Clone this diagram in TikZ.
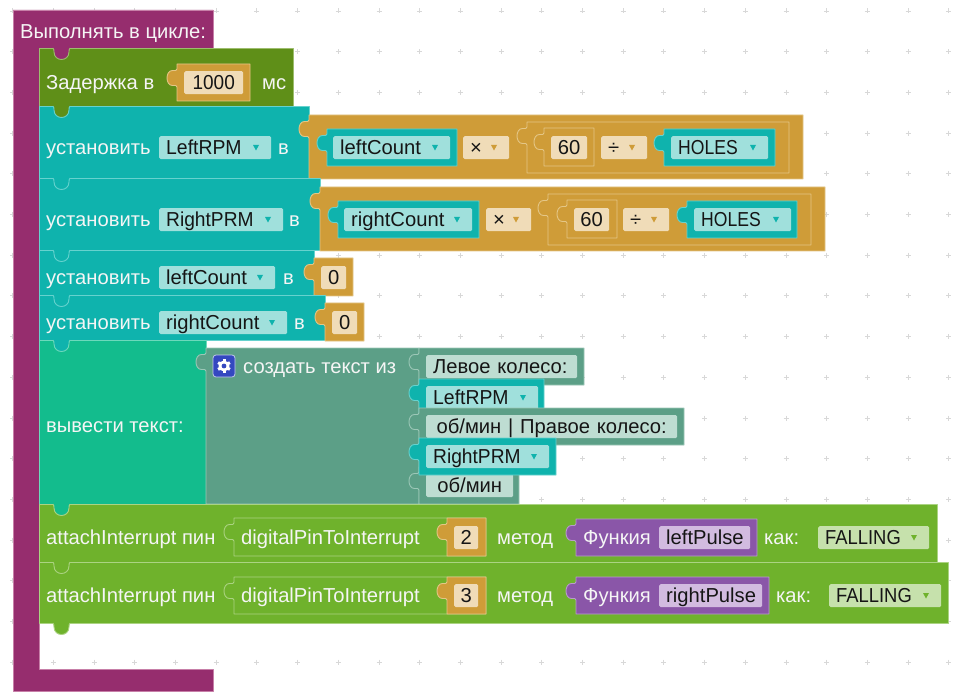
\documentclass[tikz,border=0pt]{standalone}
\usepackage{fontspec}
\setmainfont{Liberation Sans}
\definecolor{loopc}{HTML}{962D6E}\definecolor{loope}{HTML}{C77FA8}
\definecolor{delayc}{HTML}{5F8F18}\definecolor{delaye}{HTML}{9DBD6E}
\definecolor{setc}{HTML}{0FB3AD}\definecolor{sete}{HTML}{66D2CE}
\definecolor{setf}{HTML}{A0E0DC}
\definecolor{printc}{HTML}{13BC8D}\definecolor{printe}{HTML}{6CD9BB}
\definecolor{textc}{HTML}{5C9F87}\definecolor{texte}{HTML}{9CC7B7}
\definecolor{textf}{HTML}{BEDDD2}
\definecolor{mathc}{HTML}{CF9C38}\definecolor{mathe}{HTML}{E4C686}
\definecolor{mathf}{HTML}{F0DCB8}
\definecolor{attc}{HTML}{6FB22C}\definecolor{atte}{HTML}{ABD382}
\definecolor{attf}{HTML}{C6E1AC}
\definecolor{funcc}{HTML}{8A56A8}\definecolor{funce}{HTML}{BA9ACD}
\definecolor{funcf}{HTML}{D2BBE0}
\definecolor{gearc}{HTML}{3448C0}
\definecolor{gridc}{HTML}{D8D8D8}
\definecolor{inkc}{HTML}{151515}
\tikzset{
  x=1pt,y=-1pt,
  blockline/.style={line width=0.9pt,line join=round},
  every node/.style={font=\fontsize{20.2}{22}\selectfont},
  labeltext/.style={anchor=base west,inner sep=0pt,yshift=-0.7pt,text=white!96!black},
  fieldbox/.style={anchor=north west,inner xsep=0pt,inner ysep=2.5pt,text height=15.7pt,text depth=2.3pt,
    minimum height=23pt,rounded corners=1.5pt,text=inkc},
}
\newcommand\nrw[2]{\scalebox{#1}[1]{#2}}
% rectangular statement block with a notch that shows the colour above it
\newcommand\stblk[6]{%
  \filldraw[blockline,fill=#4,draw=#5] (39.5,#2) rectangle (#1,#3);
  \filldraw[blockline,fill=#6,draw=#5] (53,#2) .. controls (54,{#2+1}) and (54,{#2+3}) .. (54,{#2+4})
    .. controls (54,{#2+14}) and (69,{#2+14}) .. (69,{#2+4})
    .. controls (69,{#2+3}) and (69,{#2+1}) .. (70,#2);
}
% value block with a puzzle tab on its left side
\newcommand\vblk[6]{%
  \filldraw[blockline,fill=#5,draw=#6] (#3,#2) -- (#1,#2) -- (#1,{#2+5})
    .. controls (#1,{#2+7}) and ({#1-2},{#2+6.5}) .. ({#1-4.5},{#2+6.5})
    .. controls ({#1-8},{#2+6.5}) and ({#1-10},{#2+10}) .. ({#1-10},{#2+14})
    .. controls ({#1-10},{#2+18}) and ({#1-8},{#2+21.5}) .. ({#1-4.5},{#2+21.5})
    .. controls ({#1-2},{#2+21.5}) and (#1,{#2+21}) .. (#1,{#2+23})
    -- (#1,#4) -- (#3,#4) -- cycle;
}
% field: name, x0, y0, x1, fill, text (centred)
\newcommand\fldc[6]{%
  \node[fieldbox,fill=#5,minimum width={(#4-#2)*1pt},align=center,text width={(#4-#2)*1pt}] (#1) at (#2,#3) {#6};
}
% field with left-set text: name, x0, y0, x1, fill, text
\newcommand\fldl[6]{%
  \node[fieldbox,fill=#5,minimum width={(#4-#2)*1pt},align=left,text width={(#4-#2)*1pt}] (#1) at (#2,#3) {\hspace*{7pt}#6};
}
% field with a dropdown arrow: name, x0, y0, x1, fill, text, arrow colour
\newcommand\fldd[7]{%
  \fldl{#1}{#2}{#3}{#4}{#5}{#6}
  \fill[#7] ({#4-18},{#3+9}) -- ({#4-12},{#3+9}) -- ({#4-15},{#3+14.5}) -- cycle;
}
\newcommand\lbl[4]{\node[labeltext] (#1) at (#2,#3) {#4};}
\begin{document}
\begin{tikzpicture}
\useasboundingbox (0,0) rectangle (960,700);
\fill[white] (0,0) rectangle (960,700);
% workspace grid
\foreach \i in {0,...,23}{\foreach \j in {0,...,16}{
  \draw[gridc,line width=0.9pt] ({12.7+40.7*\i-2.5},{11+40.7*\j}) -- ({12.7+40.7*\i+2.5},{11+40.7*\j});
  \draw[gridc,line width=0.9pt] ({12.7+40.7*\i},{11+40.7*\j-2.5}) -- ({12.7+40.7*\i},{11+40.7*\j+2.5});
}}
% loop
\filldraw[blockline,fill=loopc,draw=loope] (13,10) -- (213,10) -- (213,48) -- (39.5,48) -- (39.5,669) -- (213,669) -- (213,691) -- (13,691) -- cycle;
\lbl{loopt}{20}{38}{Выполнять в цикле:}
% delay
\stblk{293}{48}{106}{delayc}{delaye}{loopc}
\lbl{delayt}{46}{89}{Задержка в}
\vblk{177}{64}{250}{101}{mathc}{mathe}
\fldc{delayv}{184}{71}{243}{mathf}{\nrw{.94}{1000}}
\lbl{delayu}{262}{89}{мс}
% set LeftRPM
\stblk{309}{106}{178}{setc}{sete}{delayc}
\lbl{s1t}{46}{154}{установить}
\fldd{s1f}{159}{136}{271}{setf}{\nrw{.96}{LeftRPM}}{setc}
\lbl{s1v}{278}{154}{в}
\vblk{309}{115}{803}{179}{mathc}{mathe}
\vblk{327}{129}{457}{166}{setc}{sete}
\fldd{m1a}{333}{136}{450}{setf}{leftCount}{setc}
\fldd{m1o}{463}{136}{509}{mathf}{×}{mathc}
\vblk{527}{122}{789}{173}{mathc}{mathe}
\vblk{544}{128}{594}{166}{mathc}{mathe}
\fldc{m1n}{551}{136}{587}{mathf}{60}
\fldd{m1d}{601}{136}{647}{mathf}{÷}{mathc}
\vblk{664}{129}{775}{166}{setc}{sete}
\fldd{m1h}{671}{136}{768}{setf}{\nrw{.87}{HOLES}}{setc}
% set RightPRM
\stblk{320}{178}{250}{setc}{sete}{setc}
\lbl{s2t}{46}{226}{установить}
\fldd{s2f}{159}{208}{283}{setf}{\nrw{.95}{RightPRM}}{setc}
\lbl{s2v}{289}{226}{в}
\vblk{320}{187}{825}{251}{mathc}{mathe}
\vblk{338}{201}{479}{238}{setc}{sete}
\fldd{m2a}{344}{208}{472}{setf}{rightCount}{setc}
\fldd{m2o}{486}{208}{531}{mathf}{×}{mathc}
\vblk{548}{194}{811}{245}{mathc}{mathe}
\vblk{567}{200}{617}{238}{mathc}{mathe}
\fldc{m2n}{574}{208}{609}{mathf}{60}
\fldd{m2d}{623}{208}{669}{mathf}{÷}{mathc}
\vblk{687}{201}{797}{238}{setc}{sete}
\fldd{m2h}{694}{208}{791}{setf}{\nrw{.87}{HOLES}}{setc}
% set leftCount
\stblk{314}{250}{295}{setc}{sete}{setc}
\lbl{s3t}{46}{284}{установить}
\fldd{s3f}{159}{266}{275}{setf}{leftCount}{setc}
\lbl{s3v}{283}{284}{в}
\vblk{314}{258}{353}{296}{mathc}{mathe}
\fldc{s3n}{321}{266}{346}{mathf}{0}
% set rightCount
\stblk{325}{295}{340}{setc}{sete}{setc}
\lbl{s4t}{46}{329}{установить}
\fldd{s4f}{159}{311}{287}{setf}{rightCount}{setc}
\lbl{s4v}{294}{329}{в}
\vblk{325}{303}{364}{341}{mathc}{mathe}
\fldc{s4n}{332}{311}{357}{mathf}{0}
% print
\stblk{206}{340}{504}{printc}{printe}{setc}
\lbl{pt}{46}{432}{вывести текст:}
\vblk{206}{348}{419}{504}{textc}{texte}
\fill[gearc,rounded corners=3pt] (213,355) rectangle (235,377);
\draw[white!70!gearc,rounded corners=3pt,line width=0.8pt] (213,355) rectangle (235,377);
\foreach \a in {0,60,...,300}{\draw[white,line width=3pt] (224,366) -- ({224+6.8*cos(\a+30)},{366+6.8*sin(\a+30)});}
\fill[white] (224,366) circle[radius=5.5pt];
\fill[gearc] (224,366) circle[radius=2.4pt];
\lbl{jt}{243}{373}{создать текст из}
\vblk{419}{348}{584}{385}{textc}{texte}
\fldl{j1}{426}{355}{577}{textf}{Левое колесо:}
\vblk{419}{379}{544}{416}{setc}{sete}
\fldd{j2}{426}{386}{538}{setf}{\nrw{.96}{LeftRPM}}{setc}
\vblk{419}{408}{684}{445}{textc}{texte}
\fldc{j3}{426}{415}{677}{textf}{об/мин | Правое колесо:}
\vblk{419}{467}{519}{504}{textc}{texte}
\fldc{j5}{426}{474}{513}{textf}{об/мин}
\vblk{419}{438}{556}{475}{setc}{sete}
\fldd{j4}{426}{445}{549}{setf}{\nrw{.95}{RightPRM}}{setc}
% attachInterrupt 1
\stblk{937}{504}{562}{attc}{atte}{printc}
\lbl{a1t}{46}{544}{attachInterrupt пин}
\vblk{234}{518}{486}{556}{attc}{atte}
\lbl{a1d}{241}{544}{digitalPinToInterrupt}
\vblk{447}{518}{486}{556}{mathc}{mathe}
\fldc{a1n}{454}{526}{478}{mathf}{2}
\lbl{a1m}{497}{544}{метод}
\vblk{576}{519}{757}{556}{funcc}{funce}
\lbl{a1f}{583}{544}{Функия}
\fldl{a1p}{659}{526}{750}{funcf}{leftPulse}
\lbl{a1k}{764}{544}{как:}
\fldd{a1e}{818}{526}{929}{attf}{\nrw{.91}{FALLING}}{attc}
% attachInterrupt 2
\stblk{948}{562}{623}{attc}{atte}{attc}
\lbl{a2t}{46}{602}{attachInterrupt пин}
\vblk{234}{577}{486}{614}{attc}{atte}
\lbl{a2d}{241}{602}{digitalPinToInterrupt}
\vblk{447}{577}{486}{614}{mathc}{mathe}
\fldc{a2n}{454}{584}{478}{mathf}{3}
\lbl{a2m}{497}{602}{метод}
\vblk{576}{577}{769}{614}{funcc}{funce}
\lbl{a2f}{583}{602}{Функия}
\fldl{a2p}{659}{584}{762}{funcf}{rightPulse}
\lbl{a2k}{776}{602}{как:}
\fldd{a2e}{829}{584}{941}{attf}{\nrw{.91}{FALLING}}{attc}
% bottom tab
\filldraw[blockline,fill=attc,draw=atte] (53,623) .. controls (54,624) and (54,626) .. (54,627) .. controls (54,637) and (69,637) .. (69,627) .. controls (69,626) and (69,624) .. (70,623);
\end{tikzpicture}
\end{document}
